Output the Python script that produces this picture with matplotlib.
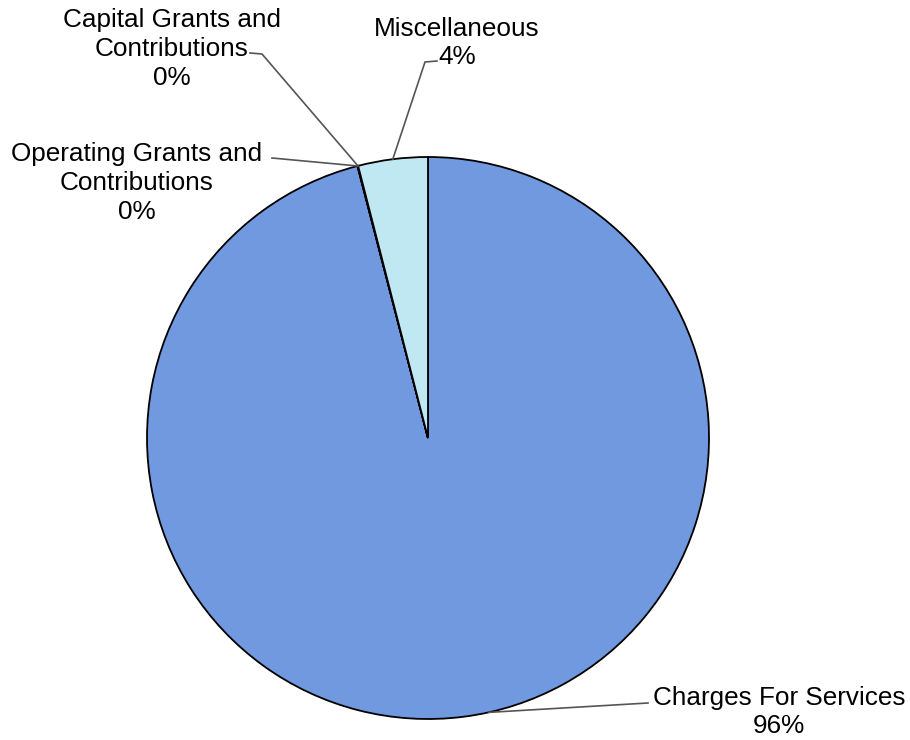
import numpy as np
import matplotlib.pyplot as plt

# revenue sources (percent of total)
sources = ["Charges For Services", "Operating Grants and\nContributions",
           "Capital Grants and\nContributions", "Miscellaneous"]
shares = [95.96, 0.02, 0.02, 4.0]
pct_labels = ["96%", "0%", "0%", "4%"]
colors = ["#7199e0", "#7199e0", "#7199e0", "#bfe8f2"]

plt.rcParams['font.family'] = ['Liberation Sans', 'DejaVu Sans']

fig = plt.figure(figsize=(9.1, 7.4), dpi=100)
ax = fig.add_axes([0, 0, 1, 1])

cx, cy, r = 428, 302, 281
wedges, _ = ax.pie(shares, colors=colors, startangle=90, counterclock=False,
                   center=(cx, cy), radius=r,
                   wedgeprops=dict(edgecolor='black', linewidth=1.3))
ax.set_xlim(0, 910)
ax.set_ylim(0, 740)
ax.set_aspect('equal')
ax.axis('off')


def rim(w, frac=0.5):
    # point on the pie edge inside wedge w
    a = np.deg2rad(w.theta1 + (w.theta2 - w.theta1) * frac)
    return cx + r * np.cos(a), cy + r * np.sin(a)


# label text position (pixels from top) and leader line bend points
text_pos = [(779, 712), (137, 183), (172, 49), (457, 43)]
bends = [[(648, 703)], [(272, 158)], [(250, 53), (262, 54)], [(437, 61), (425, 62)]]
rim_frac = [0.515, 0.5, 0.5, 0.5]

for w, name, pct, (tx, ty), pts, fr in zip(wedges, sources, pct_labels, text_pos, bends, rim_frac):
    ax.text(tx, 740 - ty, name + "\n" + pct, ha='center', va='center',
            fontsize=18.8, linespacing=1.25, color='black')
    px, py = rim(w, fr)
    xs = [p[0] for p in pts] + [px]
    ys = [740 - p[1] for p in pts] + [py]
    ax.plot(xs, ys, color='#555555', linewidth=1.2)

fig.savefig("out.png", dpi=100)
